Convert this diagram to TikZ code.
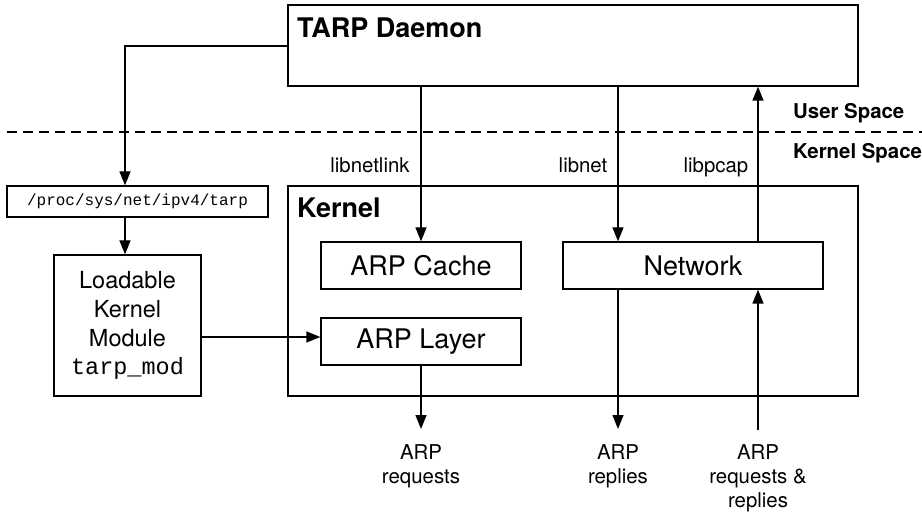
\documentclass[tikz,border=0pt]{standalone}
\usepackage{fontspec}
\setmainfont{TeX Gyre Heros}
\setmonofont{Liberation Mono}
\usetikzlibrary{arrows.meta}

\begin{document}
\begin{tikzpicture}[x=1pt,y=-1pt,
  box/.style={draw, line width=1.3pt, inner sep=0pt},
  arr/.style={line width=1.3pt, -{Triangle[length=14pt,width=11pt]}},
  small/.style={font=\fontsize{20.4}{24}\selectfont, align=center, inner sep=0pt},
  boxtext/.style={font=\fontsize{27}{30}\selectfont},
  title/.style={font=\fontsize{27}{30}\selectfont\bfseries, inner sep=0pt, anchor=base west},
  space/.style={font=\fontsize{20.4}{24}\selectfont\bfseries, inner sep=0pt, anchor=base west},
  divider/.style={line width=1.3pt, dash pattern=on 10pt off 6pt},
]
\useasboundingbox (0,0) rectangle (922,513);

% user space / kernel space divider
\coordinate (divl) at (7,132);
\coordinate (divr) at (922,132);
\draw[divider] (divl) -- (divr);
\node[space] (us) at (793,119) {User Space};
\node[space] (ks) at (793,159) {Kernel Space};

% outer boxes
\node[box, minimum width=570pt, minimum height=81pt] (tarp) at (573,45.5) {};
\node[title] (tarplbl) at (297,38) {TARP Daemon};
\node[box, minimum width=570pt, minimum height=210pt] (kern) at (573,291) {};
\node[title] (kernlbl) at (297,218) {Kernel};

% inner blocks
\node[box, boxtext, minimum width=200pt, minimum height=47pt] (cache) at (421,265.5) {ARP Cache};
\node[box, boxtext, minimum width=200pt, minimum height=47pt] (layer) at (421,341.5) {ARP Layer};
\node[box, boxtext, minimum width=260pt, minimum height=47pt] (net) at (693,265.5) {Network};

% proc entry and module
\node[box, minimum width=261pt, minimum height=31pt, font=\ttfamily\fontsize{16}{20}\selectfont] (proc) at (137.5,201.5) {/proc/sys/net/ipv4/tarp};
\node[box, minimum width=147pt, minimum height=141pt, align=center,
      font=\fontsize{23.5}{29}\selectfont] (lkm) at (127.5,325.5)
  {Loadable\\Kernel\\Module\\[-1pt]{\ttfamily\fontsize{23.5}{29}\selectfont tarp\_mod}};

% x positions of the vertical links
\coordinate (xproc) at (125,0);
\coordinate (xnl) at (421,0);
\coordinate (xnet) at (618,0);
\coordinate (xpcap) at (758,0);
\coordinate (ylk) at (0,337);
\coordinate (ytarp) at (0,46);

% library labels
\node[small, anchor=base] (lnl) at (370,173) {libnetlink};
\node[small, anchor=base] (lnet) at (583,173) {libnet};
\node[small, anchor=base] (lpcap) at (716,173) {libpcap};

% wire labels
\node[small, anchor=north] (req) at (421,444) {ARP\\requests};
\node[small, anchor=north] (rep) at (618,444) {ARP\\replies};
\node[small, anchor=north] (both) at (758,444) {ARP\\requests \&\\replies};
\coordinate (reqend) at (421,429);
\coordinate (repend) at (618,429);
\coordinate (bothstart) at (758,430);

% links
\draw[arr] (tarp.west |- ytarp) -| (xproc |- proc.north);
\draw[arr] (xproc |- proc.south) -- (xproc |- lkm.north);
\draw[arr] (lkm.east |- ylk) -- (layer.west |- ylk);
\draw[arr] (tarp.south -| xnl) -- (cache.north -| xnl);
\draw[arr] (tarp.south -| xnet) -- (net.north -| xnet);
\draw[arr] (net.north -| xpcap) -- (tarp.south -| xpcap);
\draw[arr] (layer.south -| xnl) -- (reqend);
\draw[arr] (net.south -| xnet) -- (repend);
\draw[arr] (bothstart) -- (net.south -| xpcap);
\end{tikzpicture}
\end{document}
